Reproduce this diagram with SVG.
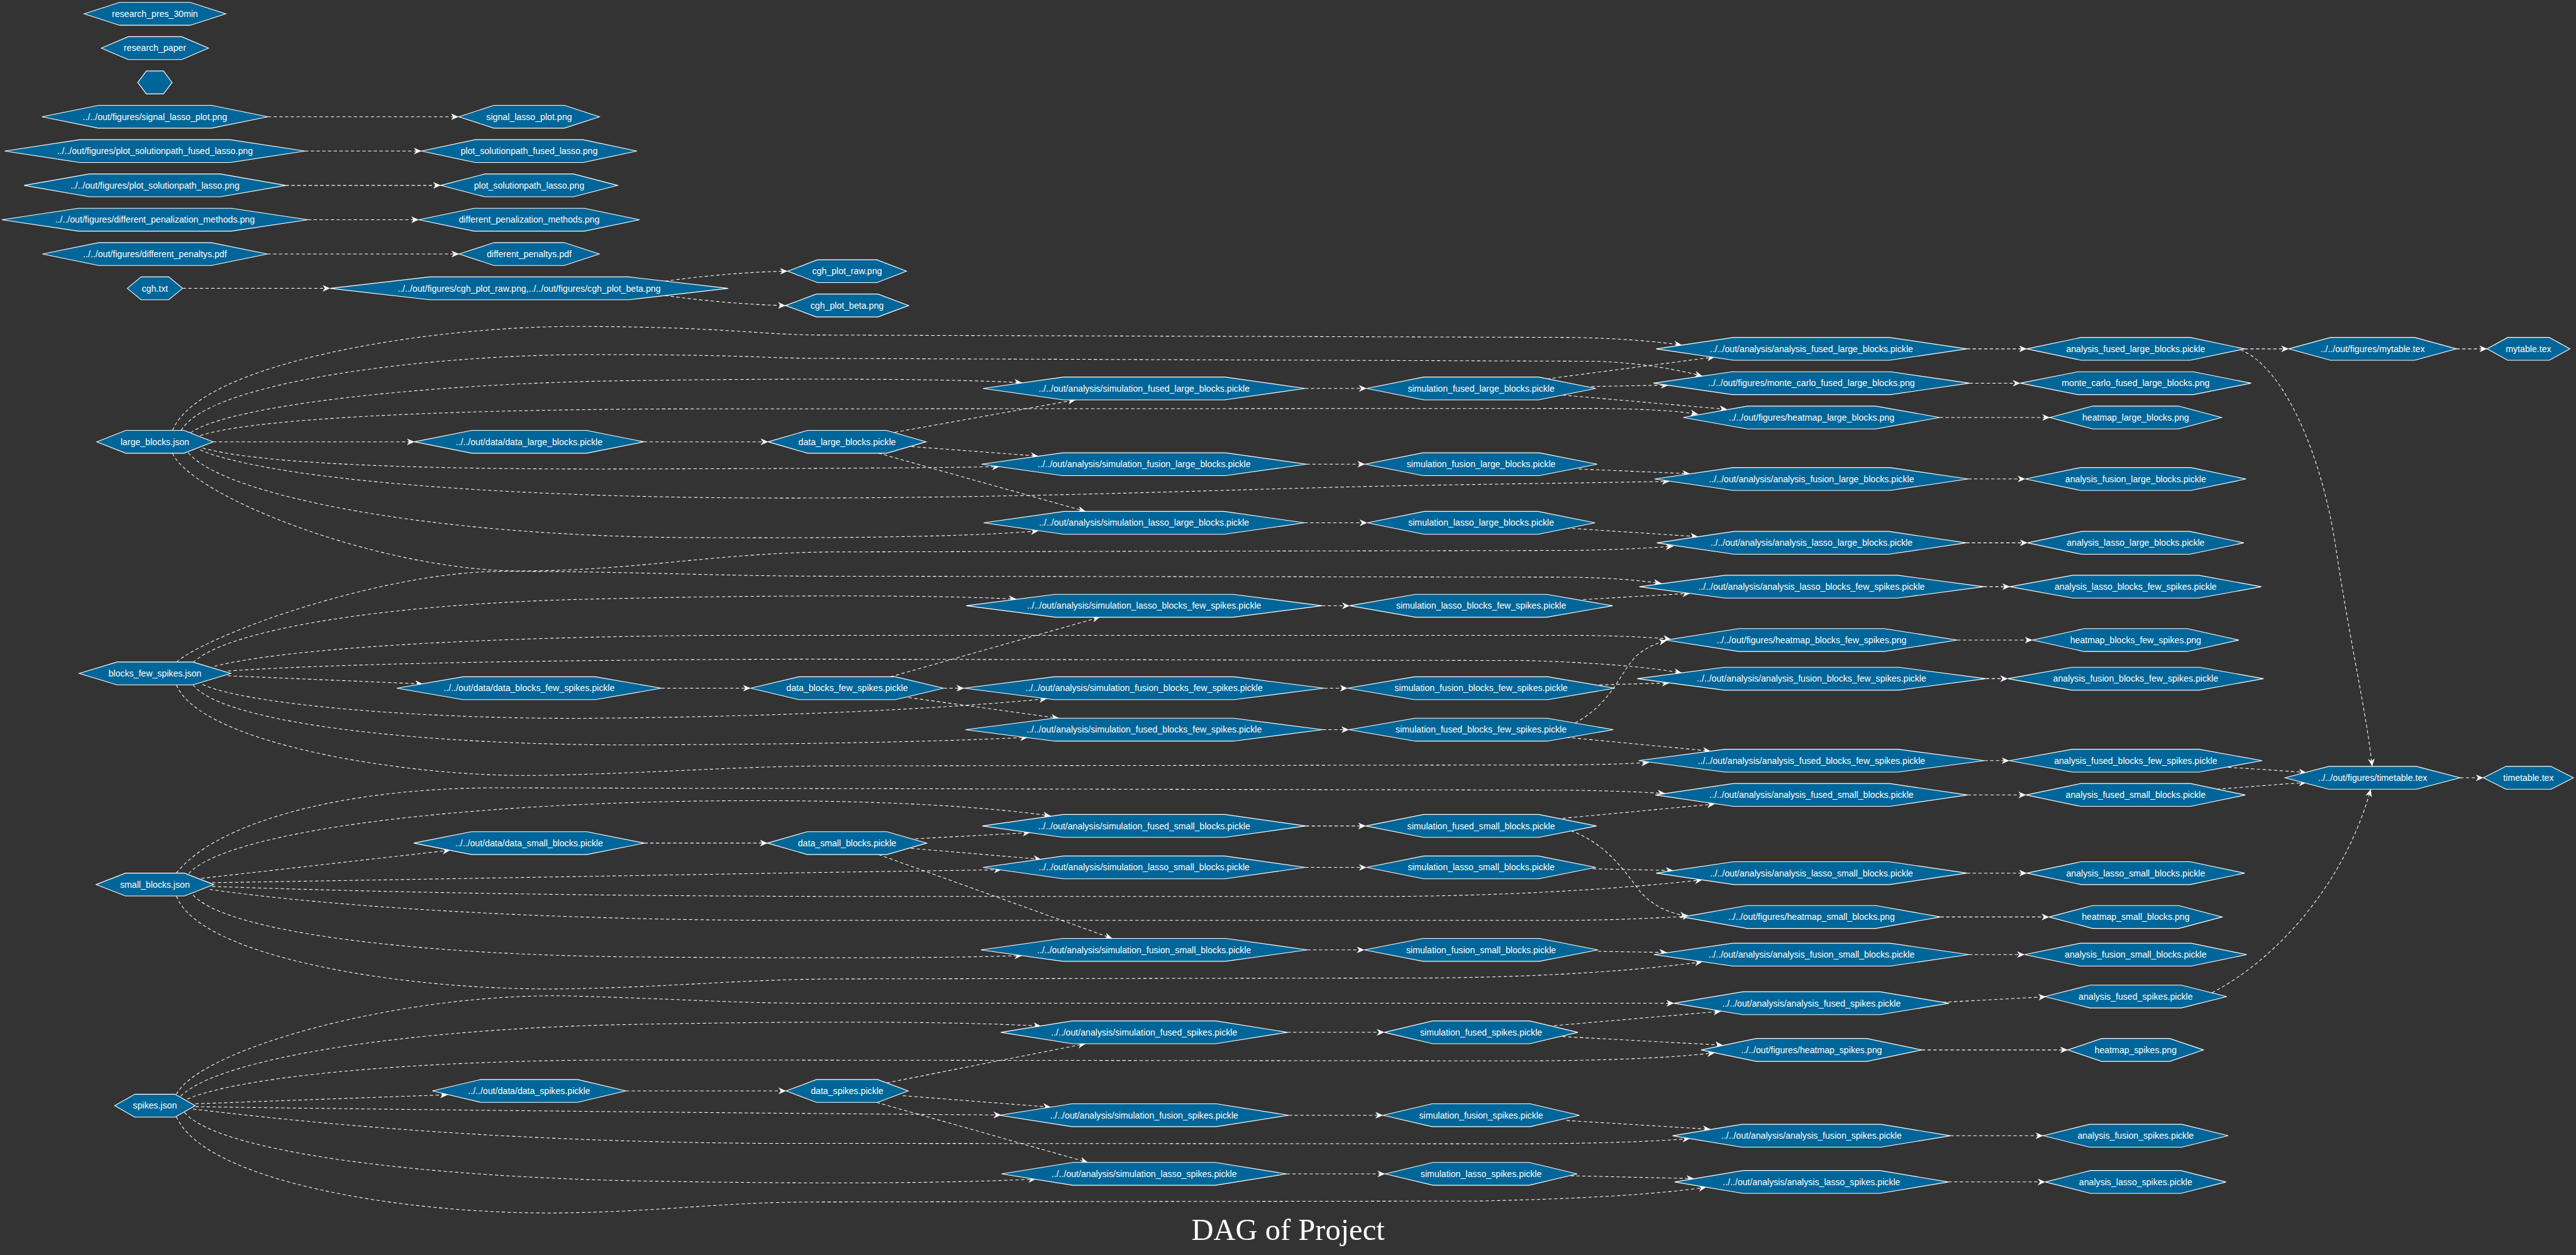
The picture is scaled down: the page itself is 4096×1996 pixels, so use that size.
<svg xmlns="http://www.w3.org/2000/svg" width="4096" height="1996" viewBox="0 0 4096 1996">
<style>
.n polygon{fill:#006699;stroke:#ffffff;stroke-width:1.5}
.n text{font-family:"Liberation Sans",Arial,sans-serif;font-size:18.67px;fill:#ffffff;text-anchor:middle}
.e path{fill:none;stroke:#ffffff;stroke-width:1.4;stroke-dasharray:7 5;marker-end:url(#v)}
.title{font-family:"Liberation Serif","Times New Roman",serif;font-size:64px;fill:#ffffff;text-anchor:middle}
</style>
<defs>
<marker id="v" markerUnits="userSpaceOnUse" markerWidth="18" markerHeight="16" viewBox="0 -8 18 16" refX="16" refY="0" orient="auto"><path d="M0,-7 L16,0 L0,7 L5,0 Z" fill="#ffffff"/></marker>
</defs>
<rect x="0" y="0" width="4096" height="1996" fill="#333333"/>
<g transform="scale(0.758)">
<g id="edges" class="e">
<path d="M562,245 L962,245"/>
<path d="M640,317 L884,317"/>
<path d="M599.5,389 L924.5,389"/>
<path d="M646,461 L878.5,461"/>
<path d="M561,533 L963,533"/>
<path d="M383,605 L692.5,605"/>
<path d="M1395,590 C1480,578 1580,570 1652,569"/>
<path d="M1395,620 C1480,632 1580,640 1648,641"/>
<path d="M447,927 L869.5,927"/>
<path d="M1350.5,927 L1611.5,927"/>
<path d="M362,903 C420,760 900,685 1205,685 S1600,703 1722,703 L3300,708 C3400,710 3470,716 3528,724"/>
<path d="M380,903 C440,800 900,744 1240,744 S1600,752 1722,752 L3350,758 C3450,762 3520,776 3571,789"/>
<path d="M400,908 C480,850 900,805 1300,799 C1700,793 2000,795 2144,803"/>
<path d="M420,914 C520,880 900,860 1400,858 L3350,857 C3450,858 3520,862 3562,869"/>
<path d="M425,940 C550,975 900,985 1300,984 C1700,983 1950,982 2097,979"/>
<path d="M420,944 C550,1000 1000,1045 1650,1045 C2200,1045 2600,1025 3000,1018 C3250,1014 3400,1012 3502,1010"/>
<path d="M395,950 C470,1040 900,1125 1450,1128 C1800,1130 2050,1125 2178,1114"/>
<path d="M362,951 C400,1040 800,1200 1100,1198 C1350,1196 1500,1160 1750,1158 L3300,1155 C3400,1153 3460,1150 3510,1146"/>
<path d="M1877,907 L2256,839"/>
<path d="M1912,937 L2178,957"/>
<path d="M1843,951 L2277,1073"/>
<path d="M2738,815 L2866.5,815"/>
<path d="M2741,974 L2863.5,974"/>
<path d="M2736.5,1097 L2868,1097"/>
<path d="M3245,795 L3597,749"/>
<path d="M3338,811 L3500,808"/>
<path d="M3278,829 L3623,859"/>
<path d="M3312,984 L3545,994"/>
<path d="M3286,1108 L3562,1126"/>
<path d="M4126,732 L4251.5,732"/>
<path d="M4131.5,804 L4238,804"/>
<path d="M4069,876 L4300,876"/>
<path d="M4129,1005 L4248.5,1005"/>
<path d="M4124.5,1139 L4253,1139"/>
<path d="M4708.5,732 L4801,732"/>
<path d="M5153,732 L5217,732"/>
<path d="M4700,734 C4790,770 4870,950 4900,1150 S4965,1500 4976,1608"/>
<path d="M4674,1610 C4740,1614 4800,1618 4838,1621"/>
<path d="M4650,1656 C4730,1650 4800,1644 4838,1642"/>
<path d="M4640,2083 C4780,2010 4920,1850 4973,1656"/>
<path d="M5160.65,1632 L5209.5,1632"/>
<path d="M478,1418 L887,1435"/>
<path d="M1387.5,1444 L1574.5,1444"/>
<path d="M370,1389 C440,1330 800,1200 1050,1199 C1300,1198 1500,1209 1750,1209 L3300,1211 C3390,1213 3440,1218 3485,1224"/>
<path d="M405,1390 C480,1320 800,1270 1200,1258 C1600,1248 1950,1248 2132,1257"/>
<path d="M450,1398 C600,1360 1000,1337 1500,1333 L3300,1333 C3400,1334 3460,1337 3505,1341"/>
<path d="M478,1408 C700,1392 1200,1384 1700,1383 L3200,1386 C3350,1390 3460,1400 3528,1412"/>
<path d="M425,1436 C520,1480 900,1510 1250,1507 C1600,1504 1950,1490 2196,1466"/>
<path d="M405,1437 C470,1520 900,1565 1350,1563 C1750,1561 2000,1555 2156,1547"/>
<path d="M370,1437 C420,1560 850,1630 1119,1627 C1350,1624 1550,1607 1750,1607 L3300,1605 C3380,1604 3420,1602 3459,1600"/>
<path d="M1868,1420 L2307,1295"/>
<path d="M1979.5,1444 L2022.25,1444"/>
<path d="M1894,1462 L2221,1507"/>
<path d="M2773.25,1271 L2831.2,1271"/>
<path d="M2777.75,1444 L2826.7,1444"/>
<path d="M2774.75,1531 L2829.7,1531"/>
<path d="M3321,1258 L3545,1245"/>
<path d="M3304,1517 C3390,1470 3400,1400 3440,1370 C3460,1356 3478,1348 3496,1344"/>
<path d="M3355,1437 L3502,1433"/>
<path d="M3286,1547 L3588,1576"/>
<path d="M4161.25,1231 L4216.2,1231"/>
<path d="M4105.8,1343 L4263.4,1343"/>
<path d="M4165.75,1424 L4211.7,1424"/>
<path d="M4162.75,1596 L4214.7,1596"/>
<path d="M422,1843 L944,1784"/>
<path d="M1352,1769 L1610,1769"/>
<path d="M370,1832 C450,1730 700,1655 1033,1653 L3300,1658 C3400,1660 3450,1662 3493,1665"/>
<path d="M396,1833 C470,1750 900,1690 1450,1681 C1800,1676 2050,1690 2204,1712"/>
<path d="M445,1852 C900,1845 1700,1830 2101,1825"/>
<path d="M445,1860 C800,1872 1200,1880 1800,1881 L2900,1881 C3200,1880 3450,1860 3571,1846"/>
<path d="M440,1866 C600,1890 1000,1928 1600,1931 L3300,1931 C3400,1930 3480,1926 3545,1922"/>
<path d="M405,1878 C480,1960 900,2005 1350,2008 C1750,2011 2000,2010 2144,2005"/>
<path d="M370,1880 C420,2010 850,2078 1171,2075 C1400,2072 1550,2055 1750,2054 L3000,2052 C3250,2050 3450,2035 3571,2018"/>
<path d="M1920,1760 L2161,1747"/>
<path d="M1911,1780 L2184,1803"/>
<path d="M1843,1793 L2333,1969"/>
<path d="M2739.5,1733 L2865,1733"/>
<path d="M2738,1820 L2866.5,1820"/>
<path d="M2742.5,1993 L2862,1993"/>
<path d="M3278,1717 L3597,1687"/>
<path d="M3295,1743 C3370,1770 3410,1830 3440,1870 C3470,1905 3510,1918 3540,1922"/>
<path d="M3341.5,1823 L3510,1826.5"/>
<path d="M3352,1996 L3496.7,1998.5"/>
<path d="M4127.5,1668 L4250,1668"/>
<path d="M4126,1832 L4251.5,1832"/>
<path d="M4070.5,1924 L4298.5,1924"/>
<path d="M4130.5,2003 L4247,2003"/>
<path d="M370,2296 C420,2200 850,2080 1205,2090 C1450,2097 1550,2105 1700,2105 L3511.5,2105"/>
<path d="M379,2300 C460,2220 850,2160 1300,2150 C1700,2142 2000,2143 2184,2153"/>
<path d="M393,2306 C500,2260 850,2225 1300,2224 L3200,2226 C3400,2225 3520,2218 3597,2209"/>
<path d="M410,2316 L939,2297"/>
<path d="M410,2322 C800,2328 1600,2336 2100,2339.5"/>
<path d="M405,2327 C600,2350 1000,2395 1600,2399 L3200,2400 C3380,2399 3480,2394 3545,2389"/>
<path d="M387,2334 C460,2420 900,2470 1350,2478 C1750,2485 2000,2482 2173,2474"/>
<path d="M370,2343 C430,2480 850,2548 1171,2545 C1400,2542 1500,2523 1700,2522 L3100,2520 C3350,2515 3500,2503 3579,2491"/>
<path d="M1313,2289 L1649,2289"/>
<path d="M1860,2272 L2277,2190"/>
<path d="M1894,2299 L2204,2323"/>
<path d="M1839,2313 L2282,2439"/>
<path d="M2700.5,2166 L2904,2166"/>
<path d="M2703.5,2340 L2901,2340"/>
<path d="M2699,2463 L2905.5,2463"/>
<path d="M3260,2152 L3610,2122"/>
<path d="M3278,2175 L3614,2193"/>
<path d="M3286,2351 L3588,2369.5"/>
<path d="M3295,2467 L3553.6,2473"/>
<path d="M4075,2103 L4292,2091.5"/>
<path d="M4031.5,2203 L4337.5,2203"/>
<path d="M4091.5,2383 L4286,2383"/>
<path d="M4087,2480 L4290.5,2480"/>
</g>
<g id="nodes">
<g id="n_research_pres" class="n"><polygon points="176.5,29 250.75,5 399.25,5 473.5,29 399.25,53 250.75,53"/><text x="325" y="35.5">research_pres_30min</text></g>
<g id="n_research_paper" class="n"><polygon points="212.5,101 268.75,77 381.25,77 437.5,101 381.25,125 268.75,125"/><text x="325" y="107.5">research_paper</text></g>
<g id="n_empty" class="n"><polygon points="289,173 307,149 343,149 361,173 343,197 307,197"/></g>
<g id="n_signal_path" class="n"><polygon points="88,245 206.5,221 443.5,221 562,245 443.5,269 206.5,269"/><text x="325" y="251.5">../../out/figures/signal_lasso_plot.png</text></g>
<g id="n_signal" class="n"><polygon points="962.5,245 1036.25,221 1183.75,221 1257.5,245 1183.75,269 1036.25,269"/><text x="1110" y="251.5">signal_lasso_plot.png</text></g>
<g id="n_psf_path" class="n"><polygon points="10,317 167.5,293 482.5,293 640,317 482.5,341 167.5,341"/><text x="325" y="323.5">../../out/figures/plot_solutionpath_fused_lasso.png</text></g>
<g id="n_psf" class="n"><polygon points="884,317 997,293 1223,293 1336,317 1223,341 997,341"/><text x="1110" y="323.5">plot_solutionpath_fused_lasso.png</text></g>
<g id="n_psl_path" class="n"><polygon points="50.5,389 187.75,365 462.25,365 599.5,389 462.25,413 187.75,413"/><text x="325" y="395.5">../../out/figures/plot_solutionpath_lasso.png</text></g>
<g id="n_psl" class="n"><polygon points="924.5,389 1017.25,365 1202.75,365 1295.5,389 1202.75,413 1017.25,413"/><text x="1110" y="395.5">plot_solutionpath_lasso.png</text></g>
<g id="n_dpm_path" class="n"><polygon points="4,461 164.5,437 485.5,437 646,461 485.5,485 164.5,485"/><text x="325" y="467.5">../../out/figures/different_penalization_methods.png</text></g>
<g id="n_dpm" class="n"><polygon points="878.5,461 994.25,437 1225.75,437 1341.5,461 1225.75,485 994.25,485"/><text x="1110" y="467.5">different_penalization_methods.png</text></g>
<g id="n_dp_path" class="n"><polygon points="89,533 207,509 443,509 561,533 443,557 207,557"/><text x="325" y="539.5">../../out/figures/different_penaltys.pdf</text></g>
<g id="n_dp" class="n"><polygon points="963,533 1036.5,509 1183.5,509 1257,533 1183.5,557 1036.5,557"/><text x="1110" y="539.5">different_penaltys.pdf</text></g>
<g id="n_cgh" class="n"><polygon points="267,605 296,581 354,581 383,605 354,629 296,629"/><text x="325" y="611.5">cgh.txt</text></g>
<g id="n_cgh_paths" class="n"><polygon points="692.5,605 901.25,581 1318.75,581 1527.5,605 1318.75,629 901.25,629"/><text x="1110" y="611.5">../../out/figures/cgh_plot_raw.png,../../out/figures/cgh_plot_beta.png</text></g>
<g id="n_cgh_raw" class="n"><polygon points="1652.5,569 1714.75,545 1839.25,545 1901.5,569 1839.25,593 1714.75,593"/><text x="1777" y="575.5">cgh_plot_raw.png</text></g>
<g id="n_cgh_beta" class="n"><polygon points="1648,641 1712.5,617 1841.5,617 1906,641 1841.5,665 1712.5,665"/><text x="1777" y="647.5">cgh_plot_beta.png</text></g>

<g id="n_large_json" class="n"><polygon points="203,927 264,903 386,903 447,927 386,951 264,951"/><text x="325" y="933.5">large_blocks.json</text></g>
<g id="n_large_data_path" class="n"><polygon points="869.5,927 989.75,903 1230.25,903 1350.5,927 1230.25,951 989.75,951"/><text x="1110" y="933.5">../../out/data/data_large_blocks.pickle</text></g>
<g id="n_large_data" class="n"><polygon points="1611.5,927 1694.25,903 1859.75,903 1942.5,927 1859.75,951 1694.25,951"/><text x="1777" y="933.5">data_large_blocks.pickle</text></g>
<g id="n_sim_fused_large_path" class="n"><polygon points="2062,815 2231,791 2569,791 2738,815 2569,839 2231,839"/><text x="2400" y="821.5">../../out/analysis/simulation_fused_large_blocks.pickle</text></g>
<g id="n_sim_fusion_large_path" class="n"><polygon points="2059,974 2229.5,950 2570.5,950 2741,974 2570.5,998 2229.5,998"/><text x="2400" y="980.5">../../out/analysis/simulation_fusion_large_blocks.pickle</text></g>
<g id="n_sim_lasso_large_path" class="n"><polygon points="2063.5,1097 2231.75,1073 2568.25,1073 2736.5,1097 2568.25,1121 2231.75,1121"/><text x="2400" y="1103.5">../../out/analysis/simulation_lasso_large_blocks.pickle</text></g>
<g id="n_sim_fused_large" class="n"><polygon points="2866.5,815 2986.75,791 3227.25,791 3347.5,815 3227.25,839 2986.75,839"/><text x="3107" y="821.5">simulation_fused_large_blocks.pickle</text></g>
<g id="n_sim_fusion_large" class="n"><polygon points="2863.5,974 2985.25,950 3228.75,950 3350.5,974 3228.75,998 2985.25,998"/><text x="3107" y="980.5">simulation_fusion_large_blocks.pickle</text></g>
<g id="n_sim_lasso_large" class="n"><polygon points="2868,1097 2987.5,1073 3226.5,1073 3346,1097 3226.5,1121 2987.5,1121"/><text x="3107" y="1103.5">simulation_lasso_large_blocks.pickle</text></g>
<g id="n_an_fused_large_path" class="n"><polygon points="3474,732 3637,708 3963,708 4126,732 3963,756 3637,756"/><text x="3800" y="738.5">../../out/analysis/analysis_fused_large_blocks.pickle</text></g>
<g id="n_mc_path" class="n"><polygon points="3468.5,804 3634.25,780 3965.75,780 4131.5,804 3965.75,828 3634.25,828"/><text x="3800" y="810.5">../../out/figures/monte_carlo_fused_large_blocks.png</text></g>
<g id="n_hm_large_path" class="n"><polygon points="3531,876 3665.5,852 3934.5,852 4069,876 3934.5,900 3665.5,900"/><text x="3800" y="882.5">../../out/figures/heatmap_large_blocks.png</text></g>
<g id="n_an_fusion_large_path" class="n"><polygon points="3471,1005 3635.5,981 3964.5,981 4129,1005 3964.5,1029 3635.5,1029"/><text x="3800" y="1011.5">../../out/analysis/analysis_fusion_large_blocks.pickle</text></g>
<g id="n_an_lasso_large_path" class="n"><polygon points="3475.5,1139 3637.75,1115 3962.25,1115 4124.5,1139 3962.25,1163 3637.75,1163"/><text x="3800" y="1145.5">../../out/analysis/analysis_lasso_large_blocks.pickle</text></g>
<g id="n_an_fused_large" class="n"><polygon points="4251.5,732 4365.75,708 4594.25,708 4708.5,732 4594.25,756 4365.75,756"/><text x="4480" y="738.5">analysis_fused_large_blocks.pickle</text></g>
<g id="n_mc" class="n"><polygon points="4238,804 4359,780 4601,780 4722,804 4601,828 4359,828"/><text x="4480" y="810.5">monte_carlo_fused_large_blocks.png</text></g>
<g id="n_hm_large" class="n"><polygon points="4300,876 4390,852 4570,852 4660,876 4570,900 4390,900"/><text x="4480" y="882.5">heatmap_large_blocks.png</text></g>
<g id="n_an_fusion_large" class="n"><polygon points="4248.5,1005 4364.25,981 4595.75,981 4711.5,1005 4595.75,1029 4364.25,1029"/><text x="4480" y="1011.5">analysis_fusion_large_blocks.pickle</text></g>
<g id="n_an_lasso_large" class="n"><polygon points="4253,1139 4366.5,1115 4593.5,1115 4707,1139 4593.5,1163 4366.5,1163"/><text x="4480" y="1145.5">analysis_lasso_large_blocks.pickle</text></g>
<g id="n_mytable_path" class="n"><polygon points="4801,732 4889,708 5065,708 5153,732 5065,756 4889,756"/><text x="4977" y="738.5">../../out/figures/mytable.tex</text></g>
<g id="n_mytable" class="n"><polygon points="5217,732 5260.5,708 5347.5,708 5391,732 5347.5,756 5260.5,756"/><text x="5304" y="738.5">mytable.tex</text></g>

<g id="n_bfs_json" class="n"><polygon points="166,1413 245.5,1389 404.5,1389 484,1413 404.5,1437 245.5,1437"/><text x="325" y="1419.5">blocks_few_spikes.json</text></g>
<g id="n_bfs_data_path" class="n"><polygon points="832.5,1444 971.25,1420 1248.75,1420 1387.5,1444 1248.75,1468 971.25,1468"/><text x="1110" y="1450.5">../../out/data/data_blocks_few_spikes.pickle</text></g>
<g id="n_bfs_data" class="n"><polygon points="1574.5,1444 1675.75,1420 1878.25,1420 1979.5,1444 1878.25,1468 1675.75,1468"/><text x="1777" y="1450.5">data_blocks_few_spikes.pickle</text></g>
<g id="n_sim_lasso_bfs_path" class="n"><polygon points="2026.75,1271 2213.4,1247 2586.6,1247 2773.25,1271 2586.6,1295 2213.4,1295"/><text x="2400" y="1277.5">../../out/analysis/simulation_lasso_blocks_few_spikes.pickle</text></g>
<g id="n_sim_fusion_bfs_path" class="n"><polygon points="2022.25,1444 2211.1,1420 2588.9,1420 2777.75,1444 2588.9,1468 2211.1,1468"/><text x="2400" y="1450.5">../../out/analysis/simulation_fusion_blocks_few_spikes.pickle</text></g>
<g id="n_sim_fused_bfs_path" class="n"><polygon points="2025.25,1531 2212.6,1507 2587.4,1507 2774.75,1531 2587.4,1555 2212.6,1555"/><text x="2400" y="1537.5">../../out/analysis/simulation_fused_blocks_few_spikes.pickle</text></g>
<g id="n_sim_lasso_bfs" class="n"><polygon points="2831.2,1271 2969.1,1247 3244.9,1247 3382.8,1271 3244.9,1295 2969.1,1295"/><text x="3107" y="1277.5">simulation_lasso_blocks_few_spikes.pickle</text></g>
<g id="n_sim_fusion_bfs" class="n"><polygon points="2826.7,1444 2966.85,1420 3247.15,1420 3387.3,1444 3247.15,1468 2966.85,1468"/><text x="3107" y="1450.5">simulation_fusion_blocks_few_spikes.pickle</text></g>
<g id="n_sim_fused_bfs" class="n"><polygon points="2829.7,1531 2968.35,1507 3245.65,1507 3384.3,1531 3245.65,1555 2968.35,1555"/><text x="3107" y="1537.5">simulation_fused_blocks_few_spikes.pickle</text></g>
<g id="n_an_lasso_bfs_path" class="n"><polygon points="3438.75,1231 3619.4,1207 3980.6,1207 4161.25,1231 3980.6,1255 3619.4,1255"/><text x="3800" y="1237.5">../../out/analysis/analysis_lasso_blocks_few_spikes.pickle</text></g>
<g id="n_hm_bfs_path" class="n"><polygon points="3494.2,1343 3647.1,1319 3952.9,1319 4105.8,1343 3952.9,1367 3647.1,1367"/><text x="3800" y="1349.5">../../out/figures/heatmap_blocks_few_spikes.png</text></g>
<g id="n_an_fusion_bfs_path" class="n"><polygon points="3434.25,1424 3617.1,1400 3982.9,1400 4165.75,1424 3982.9,1448 3617.1,1448"/><text x="3800" y="1430.5">../../out/analysis/analysis_fusion_blocks_few_spikes.pickle</text></g>
<g id="n_an_fused_bfs_path" class="n"><polygon points="3437.25,1596 3618.6,1572 3981.4,1572 4162.75,1596 3981.4,1620 3618.6,1620"/><text x="3800" y="1602.5">../../out/analysis/analysis_fused_blocks_few_spikes.pickle</text></g>
<g id="n_an_lasso_bfs" class="n"><polygon points="4216.2,1231 4348.1,1207 4611.9,1207 4743.8,1231 4611.9,1255 4348.1,1255"/><text x="4480" y="1237.5">analysis_lasso_blocks_few_spikes.pickle</text></g>
<g id="n_hm_bfs" class="n"><polygon points="4263.4,1343 4371.7,1319 4588.3,1319 4696.6,1343 4588.3,1367 4371.7,1367"/><text x="4480" y="1349.5">heatmap_blocks_few_spikes.png</text></g>
<g id="n_an_fusion_bfs" class="n"><polygon points="4211.7,1424 4345.85,1400 4614.15,1400 4748.3,1424 4614.15,1448 4345.85,1448"/><text x="4480" y="1430.5">analysis_fusion_blocks_few_spikes.pickle</text></g>
<g id="n_an_fused_bfs" class="n"><polygon points="4214.7,1596 4347.35,1572 4612.65,1572 4745.3,1596 4612.65,1620 4347.35,1620"/><text x="4480" y="1602.5">analysis_fused_blocks_few_spikes.pickle</text></g>
<g id="n_timetable_path" class="n"><polygon points="4793.35,1632 4885.2,1608 5068.8,1608 5160.65,1632 5068.8,1656 4885.2,1656"/><text x="4977" y="1638.5">../../out/figures/timetable.tex</text></g>
<g id="n_timetable" class="n"><polygon points="5209.5,1632 5256.75,1608 5351.25,1608 5398.5,1632 5351.25,1656 5256.75,1656"/><text x="5304" y="1638.5">timetable.tex</text></g>

<g id="n_small_json" class="n"><polygon points="201.5,1856 263.25,1832 386.75,1832 448.5,1856 386.75,1880 263.25,1880"/><text x="325" y="1862.5">small_blocks.json</text></g>
<g id="n_small_data_path" class="n"><polygon points="868,1769 989,1745 1231,1745 1352,1769 1231,1793 989,1793"/><text x="1110" y="1775.5">../../out/data/data_small_blocks.pickle</text></g>
<g id="n_small_data" class="n"><polygon points="1610,1769 1693.5,1745 1860.5,1745 1944,1769 1860.5,1793 1693.5,1793"/><text x="1777" y="1775.5">data_small_blocks.pickle</text></g>
<g id="n_sim_fused_small_path" class="n"><polygon points="2060.5,1733 2230.25,1709 2569.75,1709 2739.5,1733 2569.75,1757 2230.25,1757"/><text x="2400" y="1739.5">../../out/analysis/simulation_fused_small_blocks.pickle</text></g>
<g id="n_sim_lasso_small_path" class="n"><polygon points="2062,1820 2231,1796 2569,1796 2738,1820 2569,1844 2231,1844"/><text x="2400" y="1826.5">../../out/analysis/simulation_lasso_small_blocks.pickle</text></g>
<g id="n_sim_fusion_small_path" class="n"><polygon points="2057.5,1993 2228.75,1969 2571.25,1969 2742.5,1993 2571.25,2017 2228.75,2017"/><text x="2400" y="1999.5">../../out/analysis/simulation_fusion_small_blocks.pickle</text></g>
<g id="n_sim_fused_small" class="n"><polygon points="2865,1733 2986,1709 3228,1709 3349,1733 3228,1757 2986,1757"/><text x="3107" y="1739.5">simulation_fused_small_blocks.pickle</text></g>
<g id="n_sim_lasso_small" class="n"><polygon points="2866.5,1820 2986.75,1796 3227.25,1796 3347.5,1820 3227.25,1844 2986.75,1844"/><text x="3107" y="1826.5">simulation_lasso_small_blocks.pickle</text></g>
<g id="n_sim_fusion_small" class="n"><polygon points="2862,1993 2984.5,1969 3229.5,1969 3352,1993 3229.5,2017 2984.5,2017"/><text x="3107" y="1999.5">simulation_fusion_small_blocks.pickle</text></g>
<g id="n_an_fused_small_path" class="n"><polygon points="3472.5,1668 3636.25,1644 3963.75,1644 4127.5,1668 3963.75,1692 3636.25,1692"/><text x="3800" y="1674.5">../../out/analysis/analysis_fused_small_blocks.pickle</text></g>
<g id="n_an_lasso_small_path" class="n"><polygon points="3474,1832 3637,1808 3963,1808 4126,1832 3963,1856 3637,1856"/><text x="3800" y="1838.5">../../out/analysis/analysis_lasso_small_blocks.pickle</text></g>
<g id="n_hm_small_path" class="n"><polygon points="3529.5,1924 3664.75,1900 3935.25,1900 4070.5,1924 3935.25,1948 3664.75,1948"/><text x="3800" y="1930.5">../../out/figures/heatmap_small_blocks.png</text></g>
<g id="n_an_fusion_small_path" class="n"><polygon points="3469.5,2003 3634.75,1979 3965.25,1979 4130.5,2003 3965.25,2027 3634.75,2027"/><text x="3800" y="2009.5">../../out/analysis/analysis_fusion_small_blocks.pickle</text></g>
<g id="n_an_fused_small" class="n"><polygon points="4250,1668 4365,1644 4595,1644 4710,1668 4595,1692 4365,1692"/><text x="4480" y="1674.5">analysis_fused_small_blocks.pickle</text></g>
<g id="n_an_lasso_small" class="n"><polygon points="4251.5,1832 4365.75,1808 4594.25,1808 4708.5,1832 4594.25,1856 4365.75,1856"/><text x="4480" y="1838.5">analysis_lasso_small_blocks.pickle</text></g>
<g id="n_hm_small" class="n"><polygon points="4298.5,1924 4389.25,1900 4570.75,1900 4661.5,1924 4570.75,1948 4389.25,1948"/><text x="4480" y="1930.5">heatmap_small_blocks.png</text></g>
<g id="n_an_fusion_small" class="n"><polygon points="4247,2003 4363.5,1979 4596.5,1979 4713,2003 4596.5,2027 4363.5,2027"/><text x="4480" y="2009.5">analysis_fusion_small_blocks.pickle</text></g>

<g id="n_spikes_json" class="n"><polygon points="240.5,2320 282.75,2296 367.25,2296 409.5,2320 367.25,2344 282.75,2344"/><text x="325" y="2326.5">spikes.json</text></g>
<g id="n_spikes_data_path" class="n"><polygon points="907,2289 1008.5,2265 1211.5,2265 1313,2289 1211.5,2313 1008.5,2313"/><text x="1110" y="2295.5">../../out/data/data_spikes.pickle</text></g>
<g id="n_spikes_data" class="n"><polygon points="1649,2289 1713,2265 1841,2265 1905,2289 1841,2313 1713,2313"/><text x="1777" y="2295.5">data_spikes.pickle</text></g>
<g id="n_sim_fused_spikes_path" class="n"><polygon points="2099.5,2166 2249.75,2142 2550.25,2142 2700.5,2166 2550.25,2190 2249.75,2190"/><text x="2400" y="2172.5">../../out/analysis/simulation_fused_spikes.pickle</text></g>
<g id="n_sim_fusion_spikes_path" class="n"><polygon points="2096.5,2340 2248.25,2316 2551.75,2316 2703.5,2340 2551.75,2364 2248.25,2364"/><text x="2400" y="2346.5">../../out/analysis/simulation_fusion_spikes.pickle</text></g>
<g id="n_sim_lasso_spikes_path" class="n"><polygon points="2101,2463 2250.5,2439 2549.5,2439 2699,2463 2549.5,2487 2250.5,2487"/><text x="2400" y="2469.5">../../out/analysis/simulation_lasso_spikes.pickle</text></g>
<g id="n_sim_fused_spikes" class="n"><polygon points="2904,2166 3005.5,2142 3208.5,2142 3310,2166 3208.5,2190 3005.5,2190"/><text x="3107" y="2172.5">simulation_fused_spikes.pickle</text></g>
<g id="n_sim_fusion_spikes" class="n"><polygon points="2901,2340 3004,2316 3210,2316 3313,2340 3210,2364 3004,2364"/><text x="3107" y="2346.5">simulation_fusion_spikes.pickle</text></g>
<g id="n_sim_lasso_spikes" class="n"><polygon points="2905.5,2463 3006.25,2439 3207.75,2439 3308.5,2463 3207.75,2487 3006.25,2487"/><text x="3107" y="2469.5">simulation_lasso_spikes.pickle</text></g>
<g id="n_an_fused_spikes_path" class="n"><polygon points="3511.5,2105 3655.75,2081 3944.25,2081 4088.5,2105 3944.25,2129 3655.75,2129"/><text x="3800" y="2111.5">../../out/analysis/analysis_fused_spikes.pickle</text></g>
<g id="n_hm_spikes_path" class="n"><polygon points="3568.5,2203 3684.25,2179 3915.75,2179 4031.5,2203 3915.75,2227 3684.25,2227"/><text x="3800" y="2209.5">../../out/figures/heatmap_spikes.png</text></g>
<g id="n_an_fusion_spikes_path" class="n"><polygon points="3508.5,2383 3654.25,2359 3945.75,2359 4091.5,2383 3945.75,2407 3654.25,2407"/><text x="3800" y="2389.5">../../out/analysis/analysis_fusion_spikes.pickle</text></g>
<g id="n_an_lasso_spikes_path" class="n"><polygon points="3513,2480 3656.5,2456 3943.5,2456 4087,2480 3943.5,2504 3656.5,2504"/><text x="3800" y="2486.5">../../out/analysis/analysis_lasso_spikes.pickle</text></g>
<g id="n_an_fused_spikes" class="n"><polygon points="4289,2091 4384.5,2067 4575.5,2067 4671,2091 4575.5,2115 4384.5,2115"/><text x="4480" y="2097.5">analysis_fused_spikes.pickle</text></g>
<g id="n_hm_spikes" class="n"><polygon points="4337.5,2203 4408.75,2179 4551.25,2179 4622.5,2203 4551.25,2227 4408.75,2227"/><text x="4480" y="2209.5">heatmap_spikes.png</text></g>
<g id="n_an_fusion_spikes" class="n"><polygon points="4286,2383 4383,2359 4577,2359 4674,2383 4577,2407 4383,2407"/><text x="4480" y="2389.5">analysis_fusion_spikes.pickle</text></g>
<g id="n_an_lasso_spikes" class="n"><polygon points="4290.5,2480 4385.25,2456 4574.75,2456 4669.5,2480 4574.75,2504 4385.25,2504"/><text x="4480" y="2486.5">analysis_lasso_spikes.pickle</text></g>
</g>
<text class="title" x="2702" y="2602">DAG of Project</text>
</g>
</svg>
